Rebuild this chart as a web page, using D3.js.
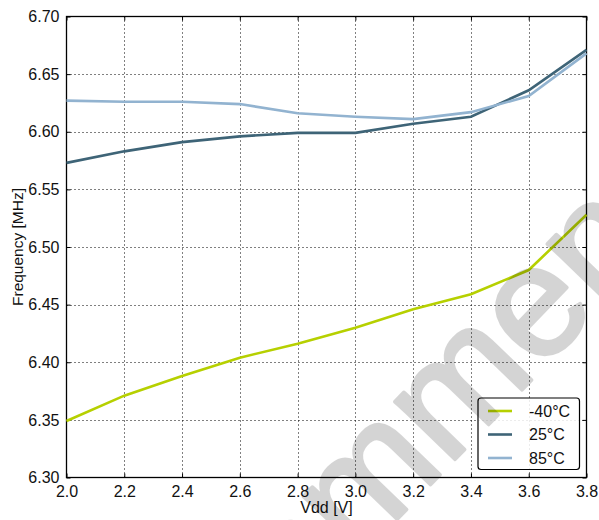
<!DOCTYPE html>
<html><head><meta charset="utf-8">
<script src="https://cdn.jsdelivr.net/npm/d3@7"></script>
<style>body{margin:0;background:#fff;}svg{display:block;font-family:"Liberation Sans",Arial,sans-serif;}</style>
</head><body>
<script>
const vdd = [2.0, 2.2, 2.4, 2.6, 2.8, 3.0, 3.2, 3.4, 3.6, 3.8];
const fMinus40 = [6.349, 6.371, 6.388, 6.404, 6.416, 6.430, 6.446, 6.459, 6.480, 6.528];
const f25 = [6.573, 6.583, 6.591, 6.596, 6.599, 6.599, 6.607, 6.613, 6.636, 6.671];
const f85 = [6.627, 6.626, 6.626, 6.624, 6.616, 6.613, 6.611, 6.617, 6.631, 6.668];
const seriesNames = ["-40°C", "25°C", "85°C"];
const seriesColors = ["#b6d000", "#3e6477", "#92b3d0"];
const xTicks = [2.0, 2.2, 2.4, 2.6, 2.8, 3.0, 3.2, 3.4, 3.6, 3.8];
const yTicks = [6.30, 6.35, 6.40, 6.45, 6.50, 6.55, 6.60, 6.65, 6.70];
const xLabel = "Vdd [V]";
const yLabel = "Frequency [MHz]";
const watermarkPre = "Not Reco";
const watermarkMain = "mmended";

const W = 599, H = 520;
const L = 66.5, R = 586.5, T = 16.5, B = 477.5;
const svg = d3.select("body").append("svg").attr("width", W).attr("height", H);
const x = d3.scaleLinear().domain([2.0, 3.8]).range([L, R]);
const y = d3.scaleLinear().domain([6.30, 6.70]).range([B, T]);

// grid
const g = svg.append("g");
g.selectAll(".vg").data(xTicks.slice(1, -1)).join("line")
  .attr("x1", d => Math.round(x(d)) + 0.5).attr("x2", d => Math.round(x(d)) + 0.5)
  .attr("y1", T).attr("y2", B).attr("stroke", "#000").attr("stroke-width", 1).attr("stroke-dasharray", "1,3");
g.selectAll(".hg").data(yTicks.slice(1, -1)).join("line")
  .attr("y1", d => Math.round(y(d)) + 0.5).attr("y2", d => Math.round(y(d)) + 0.5)
  .attr("x1", L).attr("x2", R).attr("stroke", "#000").attr("stroke-width", 1).attr("stroke-dasharray", "1,3");

// axes
const fs = "16px";
const ax = svg.append("g").attr("transform", `translate(0,${B})`)
  .call(d3.axisBottom(x).tickValues(xTicks).tickFormat(d3.format(".1f")).tickSize(-4).tickPadding(8));
const ay = svg.append("g").attr("transform", `translate(${L},0)`)
  .call(d3.axisLeft(y).tickValues(yTicks).tickFormat(d3.format(".2f")).tickSize(-4).tickPadding(7));
const at = svg.append("g").attr("transform", `translate(0,${T})`)
  .call(d3.axisTop(x).tickValues(xTicks).tickFormat("").tickSize(-4));
const ar = svg.append("g").attr("transform", `translate(${R},0)`)
  .call(d3.axisRight(y).tickValues(yTicks).tickFormat("").tickSize(-4));
[ax, ay, at, ar].forEach(a => {
  a.select(".domain").remove();
  a.selectAll("text").attr("font-size", fs).attr("fill", "#111").attr("font-family", "Liberation Sans, Arial, sans-serif");
  a.selectAll("line").attr("stroke", "#000");
});
ax.selectAll("text").attr("dy", "0.71em");
svg.append("rect").attr("x", L).attr("y", T).attr("width", R - L).attr("height", B - T)
  .attr("fill", "none").attr("stroke", "#000").attr("stroke-width", 1.3);

// lines
const data = [fMinus40, f25, f85];
const line = d3.line().x((d, i) => x(vdd[i])).y(d => y(d));
const plot = svg.append("g");
data.forEach((s, k) => {
  plot.append("path").datum(s).attr("d", line).attr("fill", "none")
    .attr("stroke", seriesColors[k]).attr("stroke-width", 2.6).attr("stroke-linejoin", "miter");
});

// labels
svg.append("text").attr("x", (L + R) / 2).attr("y", 513).attr("text-anchor", "middle")
  .attr("font-size", fs).attr("fill", "#111").text(xLabel);
svg.append("text").attr("transform", `translate(23,${(T + B) / 2}) rotate(-90)`).attr("text-anchor", "middle")
  .attr("font-size", "15.5px").attr("fill", "#111").text(yLabel);

// legend
const lg = svg.append("g");
lg.append("rect").attr("x", 478).attr("y", 398).attr("width", 101.5).attr("height", 71.5).attr("rx", 3)
  .attr("fill", "#fff").attr("fill-opacity", 0.85).attr("stroke", "#000").attr("stroke-width", 1.2);
seriesNames.forEach((n, k) => {
  const yy = 411 + k * 23.5;
  lg.append("line").attr("x1", 488).attr("x2", 512).attr("y1", yy).attr("y2", yy)
    .attr("stroke", seriesColors[k]).attr("stroke-width", 2.6);
  lg.append("text").attr("x", 529).attr("y", yy).attr("dy", "0.35em").attr("font-size", fs).attr("fill", "#111").text(n);
});

// watermark
const ang = -46, F = 158;
const rad = ang * Math.PI / 180;
const wm = svg.append("g").attr("opacity", 0.165);
const probe = wm.append("text").attr("font-size", F + "px")
  .attr("font-family", "Liberation Sans, Arial, sans-serif").text(watermarkPre);
const off = probe.node().getComputedTextLength();
probe.remove();
const mx = 356, my = 562;
const sx = mx - off * Math.cos(rad), sy = my - off * Math.sin(rad);
const wt = wm.append("text").attr("transform", `translate(${sx},${sy}) rotate(${ang})`)
  .attr("font-size", F + "px").attr("fill", "#000").attr("stroke", "#000").attr("stroke-width", 3.5)
  .attr("stroke-linejoin", "round")
  .attr("font-family", "Liberation Sans, Arial, sans-serif");
wt.append("tspan").text(watermarkPre);
wt.append("tspan").text(watermarkMain);
</script>
</body></html>
